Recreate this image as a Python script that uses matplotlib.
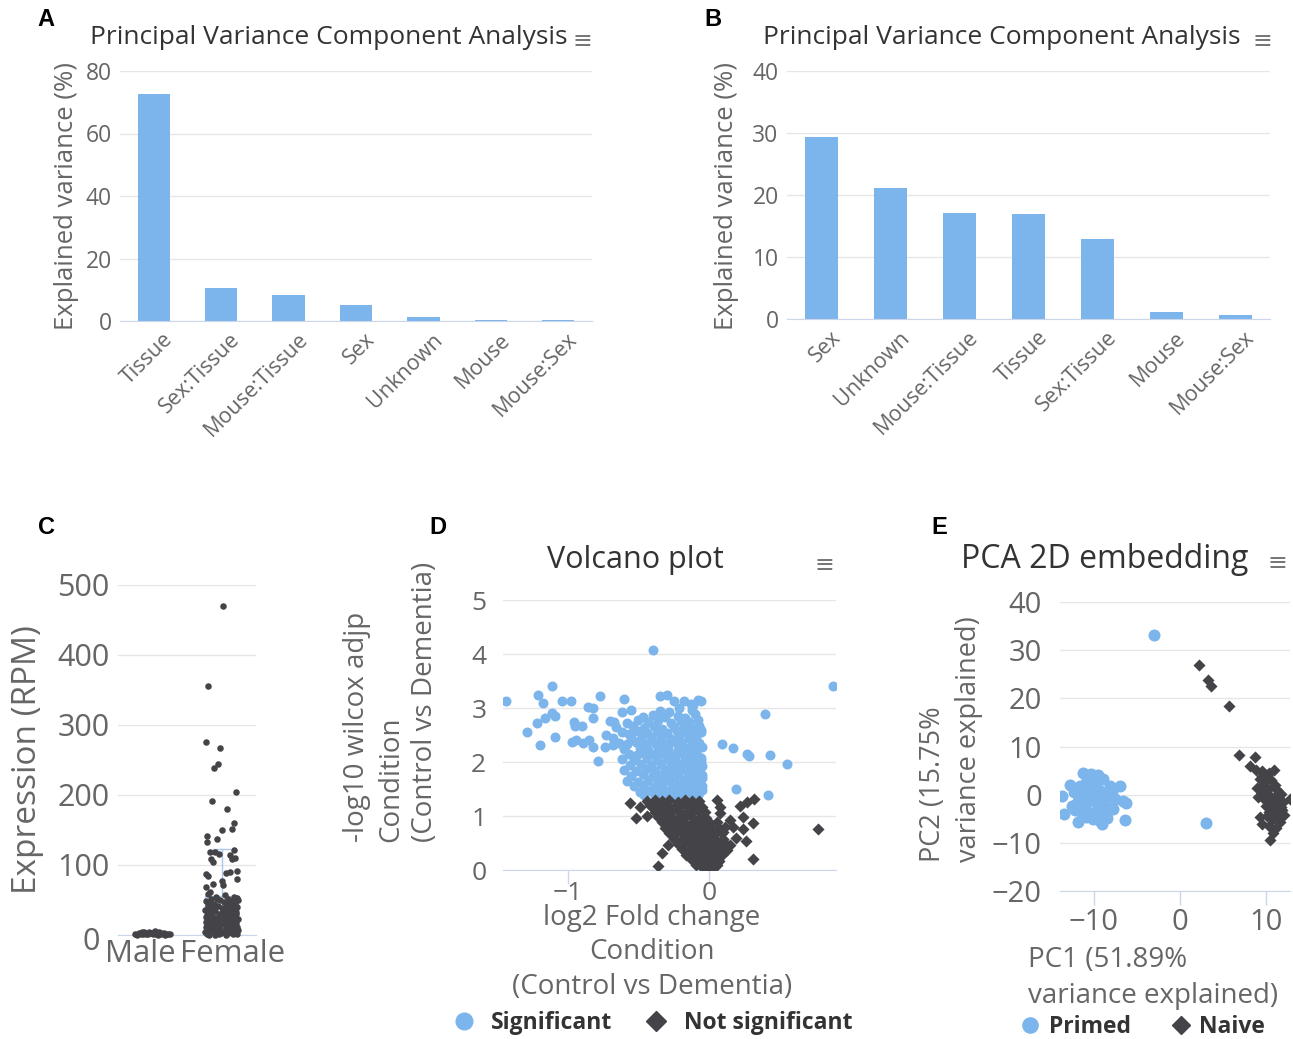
import matplotlib
matplotlib.use("Agg")
import matplotlib.pyplot as plt
from matplotlib.lines import Line2D
from matplotlib.transforms import ScaledTranslation
import numpy as np

plt.rcParams['font.family'] = ['Open Sans', 'DejaVu Sans']

BLUE = '#7cb5ec'
DARK = '#434348'
GRID = '#e6e6e6'
AXLINE = '#ccd6eb'
LABEL = '#666666'
TITLE = '#333333'

# ---- data ----
pvca_a_cats = ['Tissue', 'Sex:Tissue', 'Mouse:Tissue', 'Sex', 'Unknown', 'Mouse', 'Mouse:Sex']
pvca_a_vals = [72.6, 10.6, 8.3, 5.1, 1.3, 0.3, 0.3]

pvca_b_cats = ['Sex', 'Unknown', 'Mouse:Tissue', 'Tissue', 'Sex:Tissue', 'Mouse', 'Mouse:Sex']
pvca_b_vals = [29.4, 21.1, 17.1, 16.9, 12.9, 1.1, 0.7]

expr_groups = ['Male', 'Female']
male_expr = [2, 3, 1, 4, 2, 5, 3, 1, 6, 2, 4, 1, 3, 2, 1, 0, 0, 2, 3, 1, 4, 0, 2, 5, 1]
male_jit = [-0.25, -0.2, -0.17, -0.12, -0.1, -0.05, -0.02, 0.0, 0.03, 0.06, 0.1, 0.13, 0.16, 0.2,
            0.23, -0.22, 0.08, -0.07, 0.12, -0.14, 0.02, 0.18, 0.25, -0.15, 0.05]
female_expr = [470, 356, 276, 267, 244, 238, 204, 191, 180, 160, 151, 150, 141, 133, 137, 121, 119,
               119, 116, 109, 104, 114, 109, 110, 88, 90, 91, 80, 87, 84, 77, 73, 71, 68, 62,
               58, 57, 55, 54, 53, 52, 51, 50, 49, 48, 47, 46, 45, 44, 43, 42, 41, 40, 39, 38,
               37, 36, 35, 34, 33, 32, 31, 30, 29, 28, 27, 26, 25, 24, 23, 22, 21, 20, 19, 18,
               17, 16, 15, 14, 13, 12, 11, 10, 9, 8, 7, 6, 5, 4, 3, 2, 1, 0.5, 0, 0, 1, 2, 3, 4,
               6, 8, 10, 12, 14, 16, 18, 20, 22, 24, 26, 28, 30, 32, 34, 36, 38, 40, 42, 44, 46,
               48, 50, 52, 3, 5, 7, 9, 11, 13, 15, 17, 19, 21, 23, 25, 27, 29]
female_jit = [0.02, -0.2, -0.23, -0.02, -0.05, -0.11, 0.21, -0.14, 0.08, 0.18, 0.15, 0.0, -0.21,
              -0.21, -0.07, 0.18, -0.17, -0.09, -0.04, -0.15, -0.12, 0.12, 0.15, 0.19, 0.07, 0.13,
              0.22, 0.22, -0.22, -0.19, 0.01, -0.12, 0.02, -0.22, -0.17,
              -0.2, 0.05, 0.18, -0.08, 0.22, -0.15, 0.1, -0.02, 0.15, -0.22, 0.03, 0.2, -0.11,
              0.08, -0.19, 0.14, -0.05, 0.23, -0.14, 0.01, 0.17, -0.24, 0.06, -0.09, 0.21, -0.17,
              0.12, -0.03, 0.19, -0.21, 0.04, -0.12, 0.16, -0.06, 0.24, -0.18, 0.09, -0.01, 0.13,
              -0.23, 0.02, -0.1, 0.18, -0.16, 0.07, 0.22, -0.07, 0.11, -0.2, 0.15, -0.13, 0.03,
              0.2, -0.24, 0.09, -0.04, 0.16, -0.18, 0.06, -0.1, 0.23, -0.21, -0.01, 0.12, -0.15,
              -0.03, 0.2, -0.22, 0.14, -0.06, 0.1, -0.19, 0.17, 0.05, -0.23, 0.13, 0.21, 0.0,
              -0.13, 0.11, -0.2, 0.07, -0.08, 0.18, -0.17, 0.12, 0.24, -0.06, 0.19, -0.08, 0.24,
              0.06, -0.16, -0.02, -0.2, 0.21, -0.12, 0.15, -0.03, 0.1, -0.17, 0.01]
# female box: low whisker, Q1, median, Q3, high whisker
female_box = [0, 10, 30, 56, 123]

sig_x = [-1.44, -1.11, -1.21, -1.18, -1.04, -0.98, -0.77, -0.60, -0.35, -0.30, -0.25, -0.86, -0.82,
         -1.22, -1.16, -1.11, -1.09, -1.29, -1.20, -1.09, -0.96, -0.95, -0.90, -0.82, -0.97, -0.94,
         -0.89, -0.85, -0.82, -0.79, -0.74, -0.73, -0.67, -0.68, -0.40,
         0.88, 0.40, 0.09, 0.17, 0.27, 0.28, 0.43, 0.55, 0.19, 0.42,
         -0.06, -0.06, -0.06, -0.05, -0.05, -0.18, -0.13, -0.08, -0.21, -0.11,
         -0.62, -0.55, -0.35, -0.28, -0.12,
         -0.47, -0.40, -0.31, -0.22, -0.17, -0.10,
         -0.70, -0.58, -0.50, -0.43, -0.36, -0.27, -0.20, -0.14, -0.08,
         -0.66, -0.54, -0.46, -0.39, -0.33, -0.25, -0.18, -0.12, -0.07,
         -0.62, -0.57, -0.50, -0.44, -0.37, -0.30, -0.23, -0.16, -0.10, -0.06,
         -0.68, -0.55, -0.48, -0.41, -0.34, -0.27, -0.21, -0.14, -0.09,
         -0.64, -0.58, -0.52, -0.45, -0.38, -0.31, -0.25, -0.19, -0.12, -0.07,
         -0.60, -0.49, -0.43, -0.36, -0.29, -0.22, -0.16, -0.10, -0.05,
         -0.57, -0.51, -0.46, -0.39, -0.33, -0.26, -0.20, -0.13, -0.08,
         -0.62, -0.53, -0.44, -0.37, -0.30, -0.24, -0.17, -0.11, -0.06,
         -0.56, -0.48, -0.41, -0.34, -0.27, -0.21, -0.15, -0.09, -0.05,
         -0.60, -0.52, -0.45, -0.38, -0.31, -0.25, -0.18, -0.12, -0.07,
         -0.55, -0.47, -0.40, -0.34, -0.28, -0.22, -0.15, -0.10, -0.05,
         -0.58, -0.50, -0.43, -0.36, -0.30, -0.24, -0.18, -0.12, -0.07,
         -0.53, -0.46, -0.39, -0.33, -0.26, -0.20, -0.14, -0.09, -0.05,
         -0.49, -0.42, -0.35, -0.28, -0.22, -0.16, -0.11, -0.07,
         -0.46, -0.38, -0.30, -0.24, -0.18, -0.13, -0.08]
sig_y = [3.13, 3.41, 3.24, 3.09, 3.13, 3.13, 3.22, 3.17, 3.22, 3.24, 3.13, 3.02, 3.00,
         2.72, 2.81, 2.91, 2.85, 2.56, 2.31, 2.46, 2.74, 2.67, 2.67, 2.81, 2.37, 2.41,
         2.35, 2.41, 2.28, 2.02, 2.28, 2.50, 2.74, 2.31, 4.07,
         3.41, 2.89, 2.33, 2.26, 2.15, 2.11, 2.13, 1.96, 1.50, 1.39,
         3.13, 2.59, 2.07, 1.70, 1.48, 3.13, 3.07, 3.15, 3.00, 3.05,
         2.93, 2.97, 2.95, 2.92, 2.96,
         2.84, 2.87, 2.83, 2.86, 2.82, 2.88,
         2.76, 2.73, 2.77, 2.74, 2.78, 2.72, 2.76, 2.74, 2.77,
         2.64, 2.67, 2.63, 2.66, 2.62, 2.65, 2.68, 2.63, 2.66,
         2.55, 2.52, 2.57, 2.54, 2.56, 2.53, 2.57, 2.55, 2.52, 2.56,
         2.44, 2.46, 2.43, 2.47, 2.45, 2.42, 2.46, 2.44, 2.47,
         2.36, 2.33, 2.37, 2.34, 2.36, 2.33, 2.37, 2.35, 2.32, 2.36,
         2.24, 2.26, 2.23, 2.27, 2.25, 2.22, 2.26, 2.24, 2.27,
         2.15, 2.13, 2.17, 2.14, 2.16, 2.13, 2.17, 2.15, 2.12,
         2.05, 2.03, 2.07, 2.04, 2.06, 2.03, 2.07, 2.05, 2.02,
         1.95, 1.97, 1.94, 1.96, 1.93, 1.97, 1.95, 1.96, 1.93,
         1.85, 1.83, 1.87, 1.84, 1.86, 1.83, 1.87, 1.85, 1.82,
         1.75, 1.77, 1.74, 1.76, 1.73, 1.77, 1.75, 1.74, 1.76,
         1.65, 1.63, 1.67, 1.64, 1.66, 1.63, 1.67, 1.65, 1.62,
         1.55, 1.57, 1.54, 1.56, 1.53, 1.57, 1.55, 1.54, 1.56,
         1.45, 1.47, 1.44, 1.46, 1.43, 1.47, 1.45, 1.44,
         1.38, 1.37, 1.39, 1.36, 1.38, 1.37, 1.39]

nsig_x = [-0.56, -0.52, -0.49, -0.44, -0.42, -0.36, -0.33, -0.29, 0.06, 0.08, 0.08, 0.22, 0.27, 0.32,
          0.24, 0.31, 0.24, 0.26, 0.19, 0.15, 0.17, 0.10, 0.31, 0.13, 0.15, 0.77,
          -0.44, -0.38, -0.33, -0.28, -0.22, -0.17, -0.12, -0.07,
          -0.41, -0.36, -0.30, -0.25, -0.20, -0.15, -0.10, -0.05,
          -0.38, -0.33, -0.28, -0.22, -0.17, -0.12, -0.07, -0.03,
          -0.36, -0.31, -0.26, -0.21, -0.16, -0.11, -0.06, -0.02,
          -0.33, -0.28, -0.23, -0.18, -0.13, -0.08, -0.04, 0.01, 0.06,
          -0.31, -0.26, -0.21, -0.16, -0.11, -0.07, -0.03, 0.02, 0.07, 0.11,
          -0.28, -0.23, -0.18, -0.14, -0.09, -0.05, -0.01, 0.04, 0.09,
          -0.25, -0.20, -0.15, -0.11, -0.07, -0.03, 0.01, 0.05, 0.10,
          -0.22, -0.17, -0.13, -0.09, -0.05, -0.01, 0.03, 0.07, 0.12,
          -0.19, -0.14, -0.10, -0.06, -0.02, 0.02, 0.06, 0.10,
          -0.16, -0.11, -0.07, -0.03, 0.01, 0.05, 0.09,
          -0.12, -0.08, -0.04, 0.00, 0.04, 0.07,
          -0.09, -0.05, -0.01, 0.03, 0.06,
          -0.04, 0.00, 0.03]
nsig_y = [1.24, 0.96, 1.17, 1.00, 1.20, 0.07, 0.31, 0.46, 1.30, 1.17, 1.06, 1.19, 1.26, 1.31,
          0.98, 0.87, 0.76, 0.54, 0.59, 0.93, 0.80, 0.70, 0.20, 0.37, 0.46, 0.76,
          1.28, 1.30, 1.27, 1.29, 1.26, 1.30, 1.28, 1.27,
          1.18, 1.16, 1.19, 1.17, 1.20, 1.17, 1.19, 1.16,
          1.08, 1.10, 1.07, 1.09, 1.06, 1.10, 1.08, 1.07,
          0.98, 0.96, 0.99, 0.97, 1.00, 0.97, 0.99, 0.96,
          0.88, 0.90, 0.87, 0.89, 0.86, 0.90, 0.88, 0.87, 0.89,
          0.78, 0.76, 0.79, 0.77, 0.80, 0.77, 0.79, 0.76, 0.78, 0.80,
          0.68, 0.70, 0.67, 0.69, 0.66, 0.70, 0.68, 0.67, 0.69,
          0.58, 0.56, 0.59, 0.57, 0.60, 0.57, 0.59, 0.56, 0.58,
          0.48, 0.50, 0.47, 0.49, 0.46, 0.50, 0.48, 0.47, 0.49,
          0.38, 0.36, 0.39, 0.37, 0.40, 0.37, 0.39, 0.36,
          0.28, 0.30, 0.27, 0.29, 0.26, 0.30, 0.28,
          0.18, 0.19, 0.17, 0.20, 0.18, 0.17,
          0.09, 0.10, 0.08, 0.09, 0.10,
          0.03, 0.02, 0.04]

primed_x = [-13.7, -13.5, -12.8, -11.3, -9.5, -7.0, -6.6, -6.3, -6.4, -9.1, -11.9, -8.1, -3.0, 3.0,
            -12.3, -12.0, -12.2, -11.6, -11.4, -11.0, -10.8, -10.6, -10.4, -10.2, -10.0, -9.8,
            -9.6, -9.4, -9.2, -9.0, -8.8, -8.6, -8.4, -8.9, -10.9, -11.8, -10.3, -9.7, -8.2,
            -12.6, -11.2, -10.1, -9.3, -8.5, -7.8, -7.6, -7.9, -11.5, -10.7, -9.9]
primed_y = [-0.2, -4.0, 2.1, 4.4, 4.0, 1.7, -1.3, -1.7, -5.2, -6.0, -5.6, 1.7, 33.1, -5.8,
            0.5, -1.8, -3.2, 1.8, -0.6, -2.5, 3.0, 0.8, -1.2, -3.8, 2.2, -0.3,
            -2.0, 1.0, -4.4, 3.2, -1.0, 0.4, -2.8, -3.5, -4.6, 0.0, 4.2, 0.4, -0.2,
            -2.4, 1.2, -5.0, -5.4, -4.8, -3.0, -0.8, 0.6, -3.7, -0.1, 1.5]

naive_x = [2.2, 3.3, 3.6, 5.7, 6.9, 8.7, 8.1, 8.8,
           9.6, 10.0, 10.4, 9.3, 9.8, 10.6, 11.0, 9.4, 10.2, 11.3, 9.6, 10.4, 11.0, 11.8, 9.8,
           10.6, 11.4, 12.8, 10.0, 10.9, 11.7, 10.4, 11.3, 12.1, 9.3, 10.8, 11.6, 9.6, 10.4,
           11.2, 10.8, 10.5, 9.0, 9.1, 11.9, 10.1, 12.0, 9.5, 10.9]
naive_y = [26.9, 23.8, 22.5, 18.5, 8.3, 7.9, 6.0, 5.2,
           5.0, 4.0, 4.6, 3.2, 2.6, 3.0, 2.0, 1.6, 1.2, 1.0, 0.4, 0.0, -0.4, 0.2, -1.0,
           -1.4, -1.6, -1.0, -2.4, -2.8, -2.6, -3.6, -4.0, -4.2, -4.6, -5.0, -5.6, -6.0, -6.6,
           -7.0, -8.0, -9.4, 1.4, -0.5, -3.2, -4.4, -1.5, 3.9, 5.2]

W, H = 1293, 1039
fig = plt.figure(figsize=(W / 100, H / 100), dpi=100)


def px_axes(left, top, right, bottom):
    return fig.add_axes([left / W, 1 - bottom / H, (right - left) / W, (bottom - top) / H])


def style(ax, size):
    for s in ['top', 'right', 'left']:
        ax.spines[s].set_visible(False)
    ax.spines['bottom'].set_color(AXLINE)
    ax.grid(axis='y', color=GRID, lw=1)
    ax.set_axisbelow(True)
    ax.tick_params(axis='y', length=0, labelsize=size, labelcolor=LABEL, pad=6)
    ax.tick_params(axis='x', colors=AXLINE, labelcolor=LABEL, labelsize=size)


def fx(x):
    return x / W


def fy(y):
    return 1 - y / H


def menu(x, y):
    fig.text(fx(x), fy(y), '\u2261', family='DejaVu Sans', fontsize=17, color='#777777',
             ha='center', va='center')


def letter(x, y, s):
    fig.text(fx(x), fy(y), s, fontsize=17, weight='bold', family='Liberation Sans',
             ha='center', va='center')


# ---- A / B : PVCA bars ----
for cats, vals, box, ymax, step, lab_x, title_x, let, lx in [
        (pvca_a_cats, pvca_a_vals, (120, 71, 592, 321), 80, 20, 67, 329, 'A', 46),
        (pvca_b_cats, pvca_b_vals, (787, 71, 1270, 319), 40, 10, 727, 1002, 'B', 713)]:
    ax = px_axes(*box)
    style(ax, 16.5)
    pos = np.arange(len(cats))
    ax.bar(pos, vals, width=0.48, color=BLUE, edgecolor='none')
    ax.set_xlim(-0.5, len(cats) - 0.5)
    ax.set_ylim(0, ymax)
    ax.set_yticks(np.arange(0, ymax + 1, step))
    ax.set_xticks(pos)
    ax.set_xticklabels(cats, rotation=45, ha='right', va='center', rotation_mode='anchor',
                       fontsize=15.5)
    ax.tick_params(axis='x', length=0, pad=14)
    shift = ScaledTranslation(0.16, 0.04, fig.dpi_scale_trans)
    for t in ax.get_xticklabels():
        t.set_transform(t.get_transform() + shift)
    fig.text(fx(lab_x), fy(196), 'Explained variance (%)', rotation=90, ha='center',
             va='center', fontsize=18.5, color=LABEL)
    fig.text(fx(title_x), fy(38), 'Principal Variance Component Analysis', ha='center',
             va='center', fontsize=19, color=TITLE)
    letter(lx, 20, let)
menu(582, 41)
menu(1262, 41)

# ---- C : expression jitter ----
ax = px_axes(118, 585, 256, 935)
style(ax, 22)
ax.bxp([dict(whislo=female_box[0], q1=female_box[1], med=female_box[2], q3=female_box[3],
             whishi=female_box[4], fliers=[])], positions=[1], widths=0.49, showfliers=False,
       boxprops=dict(color='#a9c8ec', lw=1), whiskerprops=dict(color='#a9c8ec', lw=1),
       capprops=dict(color='#a9c8ec', lw=1), medianprops=dict(color='#a9c8ec', lw=1),
       capwidths=0.26)
ax.scatter(np.array(male_jit) + 0, male_expr, s=22, color=DARK, zorder=3, clip_on=False, lw=0)
ax.scatter(np.array(female_jit) + 1, female_expr, s=22, color=DARK, zorder=3, clip_on=False, lw=0)
ax.set_xlim(-0.5, 1.5)
ax.set_ylim(0, 500)
ax.set_yticks([0, 100, 200, 300, 400, 500])
ax.set_xticks([0, 1])
ax.set_xticklabels([])
ax.tick_params(axis='x', length=0)
zero_shift = ScaledTranslation(-0.1, -0.03, fig.dpi_scale_trans)
ax.get_yticklabels()[0].set_transform(ax.get_yticklabels()[0].get_transform() + zero_shift)
ax.text(0.34, -0.012, expr_groups[0], transform=ax.get_xaxis_transform(), ha='right', va='top',
        fontsize=22.5, color=LABEL)
ax.text(0.40, -0.012, expr_groups[1], transform=ax.get_xaxis_transform(), ha='left', va='top',
        fontsize=22.5, color=LABEL)
fig.text(fx(28), fy(760), 'Expression (RPM)', rotation=90, ha='center', va='center',
         fontsize=24, color=LABEL)
letter(46, 527, 'C')

# ---- D : volcano ----
ax = px_axes(503, 600, 836, 870)
style(ax, 19)
ax.scatter(sig_x, sig_y, s=52, color=BLUE, lw=0, zorder=3)
ax.scatter(nsig_x, nsig_y, s=38, marker='D', color=DARK, lw=0, zorder=3)
ax.set_xlim(-1.46, 0.90)
ax.set_ylim(0, 5)
ax.set_xticks([-1, 0])
ax.set_xticklabels(['\u22121', '0'])
ax.tick_params(axis='x', length=10, width=1, pad=-2)
ax.set_yticks(range(6))
ax.tick_params(axis='y', pad=12)
fig.text(fx(635), fy(560), 'Volcano plot', ha='center', va='center', fontsize=22, color=TITLE)
menu(824, 565)
fig.text(fx(391), fy(842), '-log10 wilcox adjp\nCondition\n(Control vs Dementia)', rotation=90,
         ha='center', va='bottom', multialignment='left', fontsize=20, color=LABEL,
         linespacing=1.3)
fig.text(fx(652), fy(904), 'log2 Fold change\nCondition\n(Control vs Dementia)', ha='center',
         va='top', multialignment='center', fontsize=20, color=LABEL, linespacing=1.3)
letter(438, 527, 'D')
h1 = [Line2D([], [], ls='', marker='o', ms=12, color=BLUE),
      Line2D([], [], ls='', marker='D', ms=10, color=DARK)]
fig.legend(h1, ['Significant', 'Not significant'], loc='center', ncol=2, frameon=False,
           bbox_to_anchor=(fx(651), fy(1023)), prop=dict(weight='bold', size=16.5),
           labelcolor=TITLE, handletextpad=0.6, columnspacing=1.3, handlelength=1.2)

# ---- E : PCA ----
ax = px_axes(1060, 602, 1290, 891)
style(ax, 21)
ax.scatter(primed_x, primed_y, s=75, color=BLUE, lw=0, zorder=3)
ax.scatter(naive_x, naive_y, s=38, marker='D', color=DARK, lw=0, zorder=3)
ax.set_xlim(-13.95, 12.8)
ax.set_ylim(-20, 40)
ax.set_xticks([-10, 0, 10])
ax.set_xticklabels(['\u221210', '0', '10'])
ax.tick_params(axis='x', length=10, width=1, pad=2)
ax.set_yticks(range(-20, 41, 10))
ax.set_yticklabels(['\u221220', '\u221210', '0', '10', '20', '30', '40'])
ax.tick_params(axis='y', pad=13)
fig.text(fx(1105), fy(560), 'PCA 2D embedding', ha='center', va='center', fontsize=23,
         color=TITLE)
menu(1277, 563)
fig.text(fx(951), fy(862), 'PC2 (15.75%\nvariance explained)', rotation=90, ha='center',
         va='bottom', multialignment='left', fontsize=19.5, color=LABEL, linespacing=1.38)
fig.text(fx(1028), fy(946), 'PC1 (51.89%\nvariance explained)', ha='left', va='top',
         fontsize=20, color=LABEL, linespacing=1.38)
letter(939, 527, 'E')
h2 = [Line2D([], [], ls='', marker='o', ms=11, color=BLUE),
      Line2D([], [], ls='', marker='D', ms=9, color=DARK)]
fig.legend(h2, ['Primed', 'Naive'], loc='center', ncol=2, frameon=False,
           bbox_to_anchor=(fx(1142), fy(1027)), prop=dict(weight='bold', size=16.5),
           labelcolor=TITLE, handletextpad=0.3, columnspacing=1.7, handlelength=1.0)

fig.savefig('out.png', dpi=100)
